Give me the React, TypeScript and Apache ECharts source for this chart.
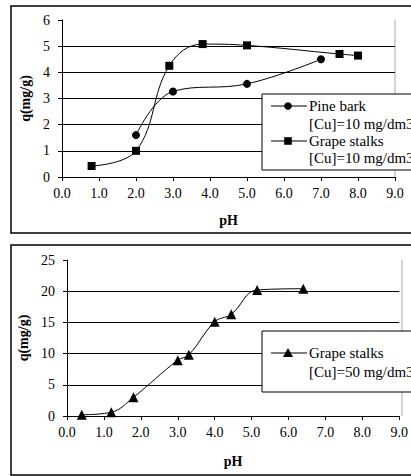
import React, { useEffect, useRef } from "react";
import * as echarts from "echarts";

// Copper uptake vs pH — top panel, [Cu] = 10 mg/dm3
const pineBarkPH = [2.0, 3.0, 5.0, 7.0];
const pineBarkQ = [1.6, 3.27, 3.56, 4.5];
const grape10PH = [0.8, 2.0, 2.9, 3.8, 5.0, 7.5, 8.0];
const grape10Q = [0.42, 1.0, 4.25, 5.08, 5.03, 4.7, 4.64];

// Bottom panel, [Cu] = 50 mg/dm3
const grape50PH = [0.4, 1.2, 1.8, 3.0, 3.3, 4.0, 4.45, 5.15, 6.4];
const grape50Q = [0.2, 0.6, 3.0, 8.95, 9.8, 15.1, 16.3, 20.2, 20.4];

const legendTop = ["Pine bark", "[Cu]=10 mg/dm3", "Grape stalks", "[Cu]=10 mg/dm3"];
const legendBottom = ["Grape stalks", "[Cu]=50 mg/dm3"];

const FONT = "'Liberation Serif', 'Times New Roman', serif";

const pairs = (xs: number[], ys: number[]) => xs.map((x, i) => [x, ys[i]]);

const G1 = { left: 62, top: 20, width: 333, height: 157 };
const G2 = { left: 67, top: 260, width: 335, height: 156 };

function xAxisOpt(gridIndex: number, gap: number) {
  return {
    type: "value",
    gridIndex,
    min: 0,
    max: 9,
    interval: 1,
    name: "pH",
    nameLocation: "middle",
    nameGap: gap,
    nameTextStyle: { fontFamily: FONT, fontSize: 14, fontWeight: "bold", color: "#000" },
    axisLine: { show: true, lineStyle: { color: "#000", width: 1 } },
    axisTick: { show: true, length: 4, lineStyle: { color: "#000" } },
    axisLabel: {
      margin: 9,
      fontFamily: FONT,
      fontSize: 14,
      color: "#000",
      formatter: (v: number) => v.toFixed(1),
    },
    splitLine: { show: false },
  };
}

function yAxisOpt(gridIndex: number, max: number, interval: number, gap: number, margin: number) {
  const n = Math.round(max / interval);
  const colors: string[] = [];
  for (let i = 0; i <= n; i++) colors.push(i === 0 || i === n ? "rgba(0,0,0,0)" : "#000");
  return {
    type: "value",
    gridIndex,
    min: 0,
    max,
    interval,
    name: "q(mg/g)",
    nameLocation: "middle",
    nameGap: gap,
    nameTextStyle: { fontFamily: FONT, fontSize: 14, fontWeight: "bold", color: "#000" },
    axisLine: { show: true, lineStyle: { color: "#000", width: 1 } },
    axisTick: { show: true, length: 4, lineStyle: { color: "#000" } },
    axisLabel: { margin, fontFamily: FONT, fontSize: 14, color: "#000" },
    splitLine: { show: true, lineStyle: { color: colors, width: 1 } },
  };
}

function lineSeries(name: string, xi: number, data: number[][], symbol: string, size: number) {
  return {
    name,
    type: "line",
    xAxisIndex: xi,
    yAxisIndex: xi,
    data,
    smooth: 0.4,
    symbol,
    symbolSize: size,
    showAllSymbol: true,
    lineStyle: { color: "#000", width: 1 },
    itemStyle: { color: "#000", borderWidth: 0 },
    z: 3,
  };
}

// legend boxes sit above the grid lines
const LZ = 100;

function legendElements(
  x: number,
  y: number,
  h: number,
  rows: { marker: any; lineY: number }[],
  texts: { text: string; y: number }[]
) {
  const els: any[] = [
    {
      type: "rect",
      z: LZ,
      zlevel: 1,
      shape: { x, y, width: 200, height: h },
      style: { fill: "#ffffff", stroke: "#000", lineWidth: 1 },
    },
  ];
  rows.forEach((r) => {
    els.push({
      type: "line",
      z: LZ + 1,
      zlevel: 1,
      shape: { x1: x + 9, y1: r.lineY, x2: x + 45, y2: r.lineY },
      style: { stroke: "#000", lineWidth: 1 },
    });
    els.push({ ...r.marker, z: LZ + 2, zlevel: 1 });
  });
  texts.forEach((t) => {
    els.push({
      type: "text",
      z: LZ + 1,
      zlevel: 1,
      x: x + 47,
      y: t.y,
      style: {
        text: t.text,
        fontFamily: FONT,
        fontSize: 15,
        fill: "#000",
        verticalAlign: "middle",
        align: "left",
      },
    });
  });
  return els;
}

export default function App() {
  const ref = useRef<HTMLDivElement>(null);

  useEffect(() => {
    if (!ref.current) return;
    const chart = echarts.init(ref.current, undefined, { renderer: "svg" });

    const lx = 262;
    const mx = lx + 26;

    chart.setOption({
      animation: false,
      backgroundColor: "#fff",
      textStyle: { fontFamily: FONT },
      grid: [
        { ...G1, containLabel: false },
        { ...G2, containLabel: false },
      ],
      xAxis: [xAxisOpt(0, 36), xAxisOpt(1, 38)],
      yAxis: [yAxisOpt(0, 6, 1, 28, 12), yAxisOpt(1, 25, 5, 33, 12)],
      series: [
        lineSeries("Pine bark [Cu]=10 mg/dm3", 0, pairs(pineBarkPH, pineBarkQ), "circle", 8),
        lineSeries("Grape stalks [Cu]=10 mg/dm3", 0, pairs(grape10PH, grape10Q), "rect", 8),
        lineSeries("Grape stalks [Cu]=50 mg/dm3", 1, pairs(grape50PH, grape50Q), "triangle", 10),
      ],
      graphic: {
        z: LZ,
        elements: [
          // panel frames
          {
            type: "rect",
            shape: { x: 11, y: 6, width: 420, height: 227 },
            style: { fill: "none", stroke: "#000", lineWidth: 1.5 },
          },
          {
            type: "rect",
            shape: { x: 11, y: 245, width: 420, height: 230 },
            style: { fill: "none", stroke: "#000", lineWidth: 1.5 },
          },
          // plot-area right edges
          {
            type: "line",
            shape: {
              x1: G1.left + G1.width,
              y1: G1.top,
              x2: G1.left + G1.width,
              y2: G1.top + G1.height,
            },
            style: { stroke: "#aaa", lineWidth: 1 },
          },
          {
            type: "line",
            shape: {
              x1: G2.left + G2.width,
              y1: G2.top,
              x2: G2.left + G2.width,
              y2: G2.top + G2.height,
            },
            style: { stroke: "#aaa", lineWidth: 1 },
          },
          ...legendElements(
            lx,
            94,
            76,
            [
              { lineY: 106, marker: { type: "circle", shape: { cx: mx, cy: 106, r: 3.8 }, style: { fill: "#000" } } },
              { lineY: 141, marker: { type: "rect", shape: { x: mx - 3.8, y: 137.2, width: 7.6, height: 7.6 }, style: { fill: "#000" } } },
            ],
            [
              { text: legendTop[0], y: 106 },
              { text: legendTop[1], y: 123.5 },
              { text: legendTop[2], y: 140.5 },
              { text: legendTop[3], y: 158 },
            ]
          ),
          ...legendElements(
            lx,
            331,
            61,
            [
              {
                lineY: 353,
                marker: {
                  type: "polygon",
                  shape: { points: [[mx, 348], [mx - 5, 357], [mx + 5, 357]] },
                  style: { fill: "#000" },
                },
              },
            ],
            [
              { text: legendBottom[0], y: 353 },
              { text: legendBottom[1], y: 372 },
            ]
          ),
        ],
      },
    });

    return () => chart.dispose();
  }, []);

  return (
    <div
      ref={ref}
      style={{ position: "fixed", left: 0, top: 0, width: 411, height: 476, overflow: "hidden" }}
    />
  );
}
